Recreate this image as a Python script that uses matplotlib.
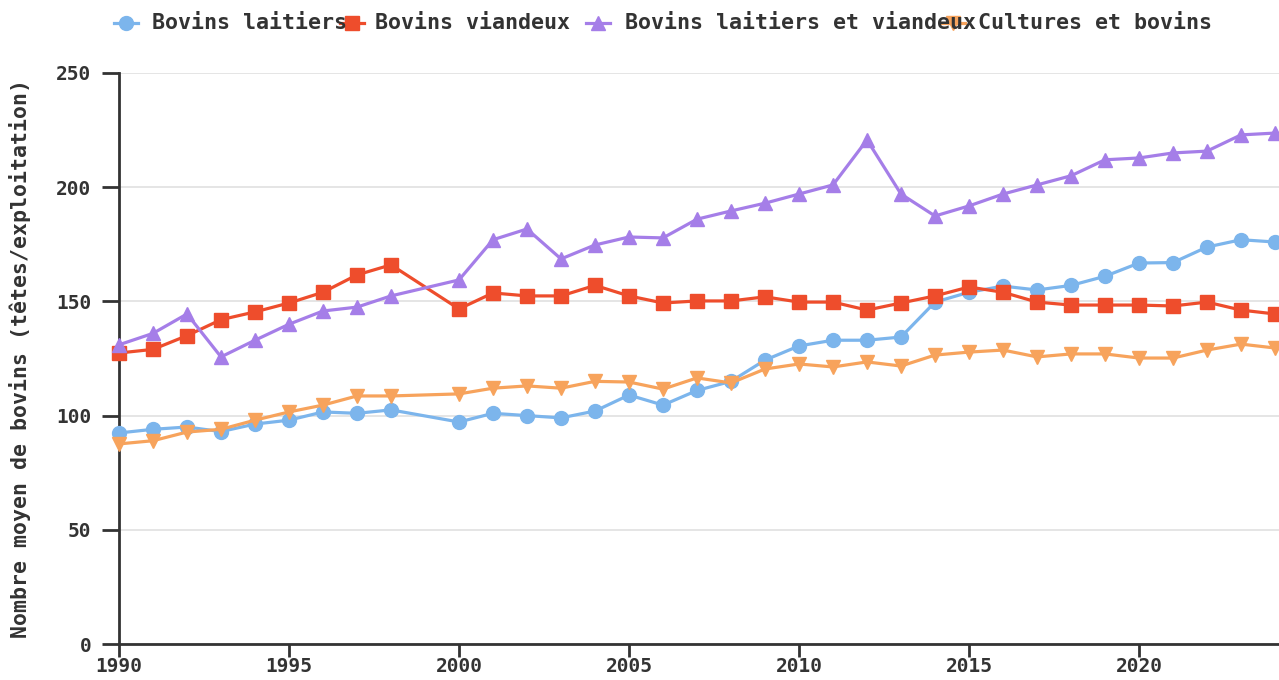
import numpy as np
import matplotlib
matplotlib.use("Agg")
import matplotlib.pyplot as plt
from matplotlib.lines import Line2D

years = [1990, 1991, 1992, 1993, 1994, 1995, 1996, 1997, 1998,
         2000, 2001, 2002, 2003, 2004, 2005, 2006, 2007, 2008, 2009,
         2010, 2011, 2012, 2013, 2014, 2015, 2016, 2017, 2018, 2019,
         2020, 2021, 2022, 2023, 2024]

laitiers = [92.4, 94, 95, 93, 96.3, 98, 101.6, 101, 102.5,
            97.2, 101, 100, 99, 102, 109, 104.6, 111, 115, 124.3,
            130.5, 133, 133, 134.4, 149.7, 154, 156.7, 155, 157, 161,
            166.8, 167, 173.8, 177, 176]

viandeux = [127.4, 129, 135, 142, 145.4, 149.3, 154, 161.6, 166,
            146.7, 153.7, 152.4, 152.4, 157, 152.4, 149.3, 150.2, 150.2, 152,
            149.7, 149.7, 146.2, 149.3, 152.4, 156.3, 154, 149.7, 148.4, 148.4,
            148.4, 148, 149.7, 146.2, 144.5]

mixtes = [131, 136, 144.5, 125.7, 133, 140, 145.8, 147.5, 152.4,
          159.4, 177, 181.7, 168.6, 174.7, 178.2, 177.8, 186, 189.6, 193,
          197, 201, 220.7, 197, 187.4, 191.8, 197, 201, 205, 212,
          212.8, 215, 215.8, 222.9, 223.7]

cultures = [87.6, 89, 92.8, 94, 98, 101.6, 104.6, 108.6, 108.6,
            109.5, 112, 113, 112, 115, 114.7, 111.6, 116.5, 114.3, 120.4,
            122.6, 121.3, 123.5, 121.7, 126.5, 127.8, 128.7, 125.7, 127, 127,
            125.2, 125.2, 128.7, 131.3, 129.6]

labels = ["Bovins laitiers", "Bovins viandeux", "Bovins laitiers et viandeux", "Cultures et bovins"]
colors = ["#7cb5ec", "#ee4d2c", "#a57ee8", "#f7a35c"]
markers = ["o", "s", "^", "v"]
series = [laitiers, viandeux, mixtes, cultures]

plt.rcParams['font.family'] = ['DejaVu Sans Mono']
plt.rcParams['font.weight'] = 'bold'
plt.rcParams['axes.labelweight'] = 'bold'

W, H = 1279, 680
fig = plt.figure(figsize=(W / 100, H / 100), dpi=100)
ax = fig.add_axes([119 / W, 1 - 644 / H, 1 - 119 / W, (644 - 73) / H])

for vals, c, m in zip(series, colors, markers):
    ax.plot(years, vals, color=c, lw=2.3, marker=m, ms=10 if m == "o" else 10.5,
            markeredgecolor=c, clip_on=False, zorder=3)

ax.set_xlim(1990, 2024 + 4 / 34)
ax.set_ylim(0, 250)
ax.set_xticks([1990, 1995, 2000, 2005, 2010, 2015, 2020])
ax.set_yticks([0, 50, 100, 150, 200, 250])
ax.grid(axis='y', color='#e3e3e3', lw=1.3)
ax.set_axisbelow(True)
for s in ['top', 'right']:
    ax.spines[s].set_visible(False)
for s in ['left', 'bottom']:
    ax.spines[s].set_color('#333333')
    ax.spines[s].set_linewidth(2)
ax.tick_params(axis='y', length=12, width=2, color='#333333', pad=8, labelsize=14, labelcolor='#333333')
ax.tick_params(axis='x', length=9, width=2, color='#333333', pad=0.5, labelsize=14, labelcolor='#333333')
ax.set_ylabel("Nombre moyen de bovins (têtes/exploitation)", fontsize=15.5, color='#333333')
ax.yaxis.set_label_coords(-(119 - 31) / (W - 119), 0.5)

# legend drawn by hand so the entries overlap like the original
marker_x = [126, 352, 598, 953]
text_x = [152, 375, 625, 978]
ly = 1 - 23 / H
for lab, c, m, mx, tx in zip(labels, colors, markers, marker_x, text_x):
    fig.add_artist(Line2D([(mx - 12) / W, (mx + 12) / W], [ly, ly], color=c, lw=2.3,
                          transform=fig.transFigure))
    fig.add_artist(Line2D([mx / W], [ly], color=c, marker=m, ms=10, markeredgecolor=c,
                          transform=fig.transFigure))
    fig.text(tx / W, ly, lab, fontsize=15.6, color='#333333', va='center', ha='left')

fig.savefig("out.png", dpi=100)
